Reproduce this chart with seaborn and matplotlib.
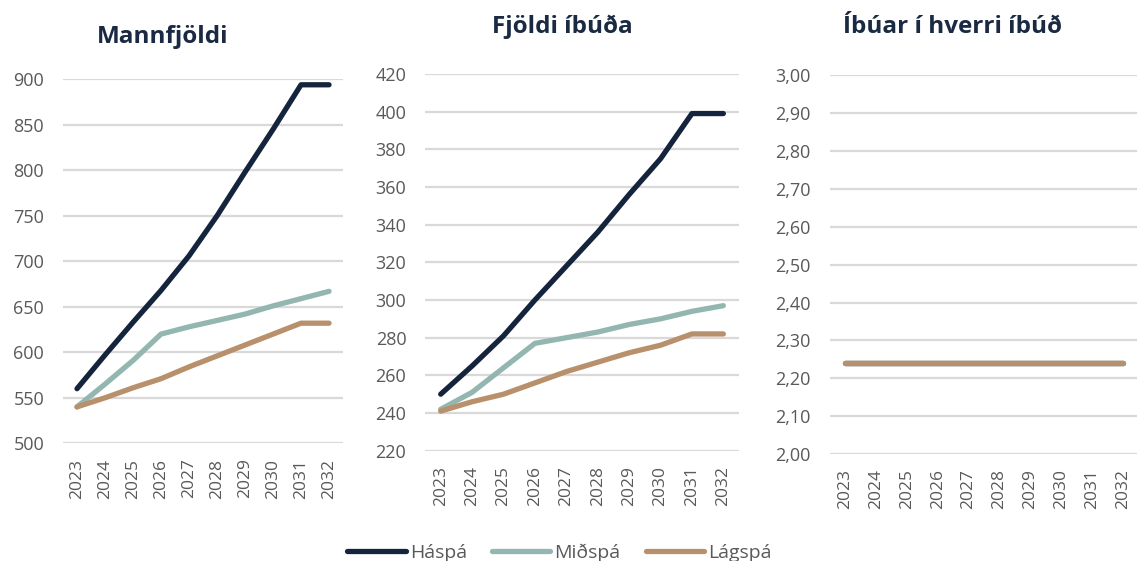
import matplotlib
matplotlib.use('Agg')
import matplotlib.pyplot as plt
import matplotlib.ticker as mticker
import numpy as np
import pandas as pd
import seaborn as sns

# Data
years = [2023, 2024, 2025, 2026, 2027, 2028, 2029, 2030, 2031, 2032]
scenarios = ['Háspá', 'Miðspá', 'Lágspá']
colors = ['#15243d', '#94b6b1', '#b8916c']

mannfjoldi_hi = [560, 597, 633, 668, 706, 750, 798, 845, 894, 894]
mannfjoldi_mid = [540, 565, 591, 620, 628, 635, 642, 651, 659, 667]
mannfjoldi_lo = [540, 550, 561, 571, 584, 596, 608, 620, 632, 632]

ibudir_hi = [250, 265, 281, 300, 318, 336, 356, 375, 399, 399]
ibudir_mid = [242, 251, 264, 277, 280, 283, 287, 290, 294, 297]
ibudir_lo = [241, 246, 250, 256, 262, 267, 272, 276, 282, 282]

ibuar_hi = [2.24] * 10
ibuar_mid = [2.24] * 10
ibuar_lo = [2.24] * 10

titles = ['Mannfjöldi', 'Fjöldi íbúða', 'Íbúar í hverri íbúð']


def long_frame(hi, mid, lo):
    rows = []
    for name, vals in zip(scenarios, [hi, mid, lo]):
        for y, v in zip(years, vals):
            rows.append({'year': y, 'value': v, 'scenario': name})
    return pd.DataFrame(rows)


frames = [long_frame(mannfjoldi_hi, mannfjoldi_mid, mannfjoldi_lo),
          long_frame(ibudir_hi, ibudir_mid, ibudir_lo),
          long_frame(ibuar_hi, ibuar_mid, ibuar_lo)]

sns.set_style('white')
plt.rcParams['font.family'] = ['Open Sans', 'DejaVu Sans']

fig = plt.figure(figsize=(11.37, 5.61), dpi=100)

# axes boxes in figure fractions
boxes = [[0.0554, 0.2098, 0.2463, 0.6488],
         [0.3738, 0.1966, 0.2762, 0.6715],
         [0.7296, 0.1907, 0.2718, 0.6750]]
ylims = [(500, 900, 50), (220, 420, 20), (2.0, 3.0, 0.1)]
title_pos = [(97, 43), (492, 33), (843, 33)]
tick_color = '#595959'

axes = []
for i, (box, df) in enumerate(zip(boxes, frames)):
    ax = fig.add_axes(box)
    sns.lineplot(data=df, x='year', y='value', hue='scenario',
                 hue_order=scenarios, palette=colors, linewidth=3.8,
                 ax=ax, legend=False, solid_capstyle='round')
    lo, hi, step = ylims[i]
    ax.set_ylim(lo, hi)
    ax.set_yticks(np.arange(lo, hi + step / 2, step))
    ax.set_xlim(2022.5, 2032.5)
    ax.set_xticks(years)
    ax.set_xticklabels([str(y) for y in years], rotation=90)
    if i == 2:
        ax.yaxis.set_major_formatter(mticker.FuncFormatter(
            lambda v, p: f'{v:.2f}'.replace('.', ',')))
    ax.grid(axis='y', color='#d9d9d9', linewidth=1.6)
    ax.set_axisbelow(True)
    for s in ax.spines.values():
        s.set_visible(False)
    ax.tick_params(axis='y', length=0, pad=13.5, labelsize=13, labelcolor=tick_color)
    ax.tick_params(axis='x', length=0, pad=11, labelsize=12.5, labelcolor=tick_color)
    ax.set_xlabel('')
    ax.set_ylabel('')
    tx, ty = title_pos[i]
    fig.text(tx / 1137, 1 - ty / 561, titles[i], fontsize=17.5, fontweight='bold',
             color='#1a2a42', ha='left', va='baseline')
    axes.append(ax)

handles = [plt.Line2D([], [], color=c, linewidth=3.8, solid_capstyle='round')
           for c in colors]
fig.legend(handles, scenarios, loc='center', bbox_to_anchor=(0.492, 8 / 561),
           ncol=3, frameon=False, fontsize=14, handlelength=3.0,
           handletextpad=0.2, columnspacing=1.3, labelcolor=tick_color)

fig.savefig('out.png', dpi=100)
